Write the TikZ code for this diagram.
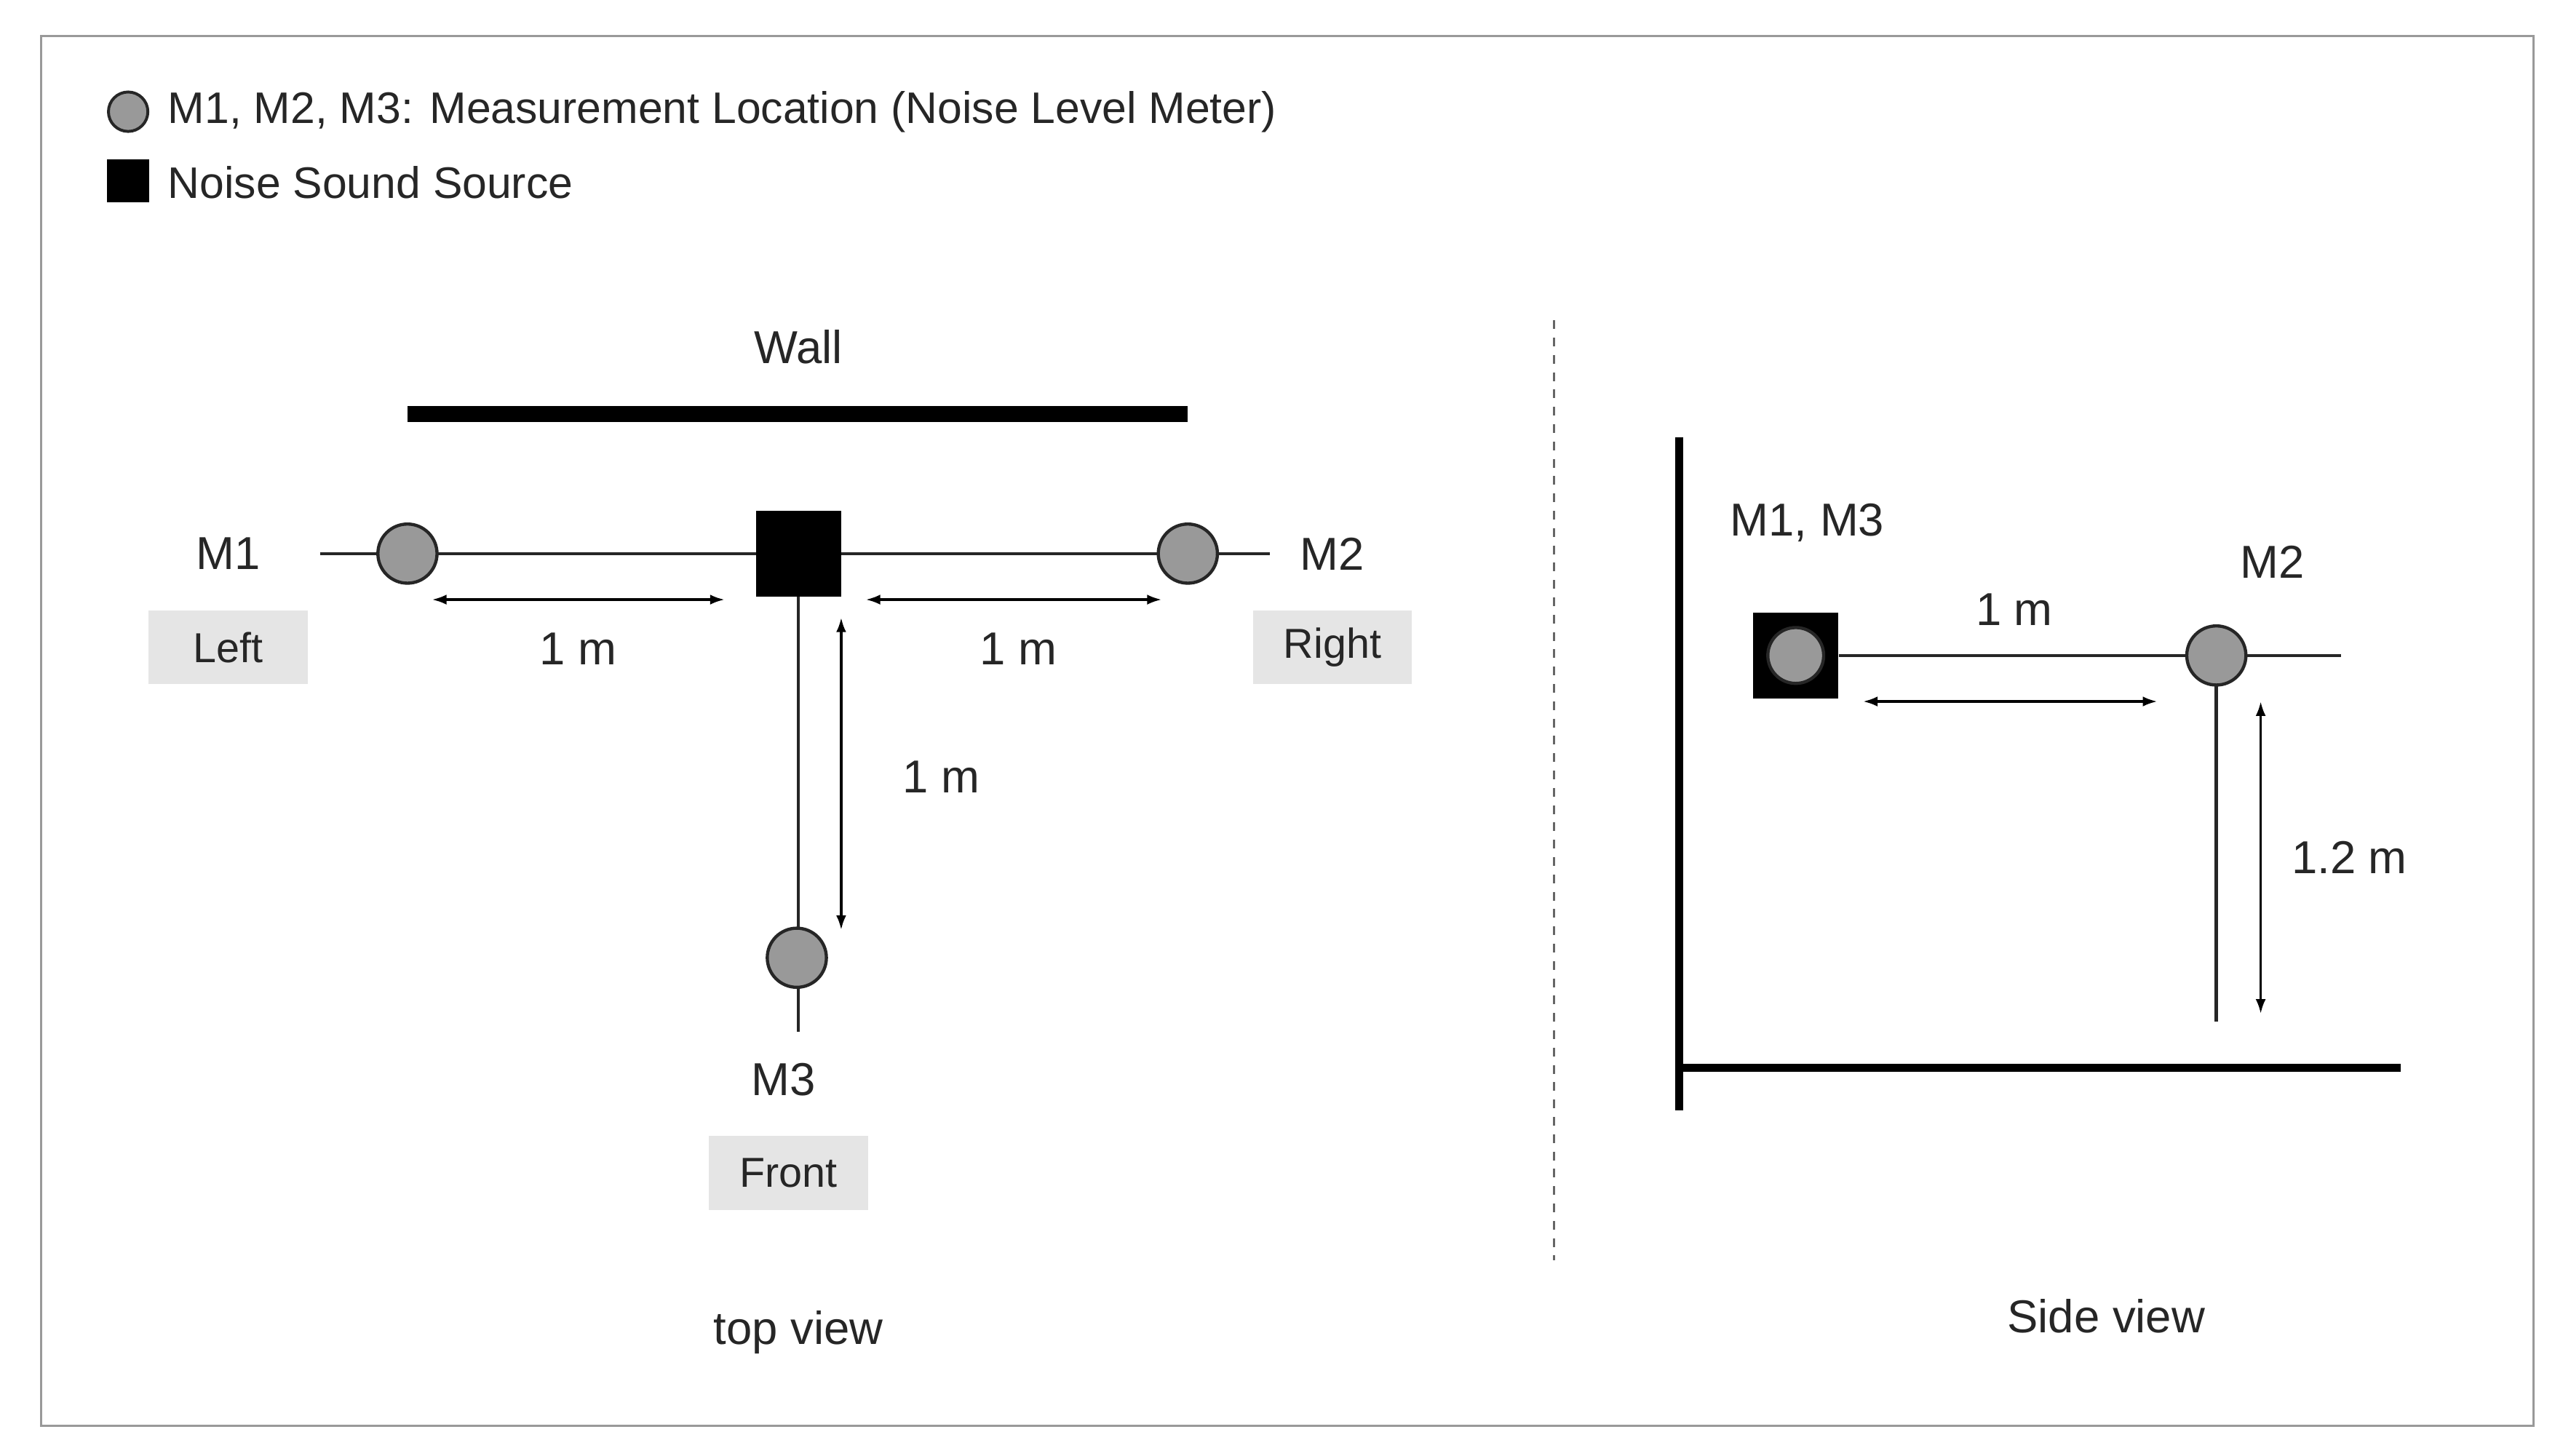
\documentclass[tikz,border=0pt]{standalone}
\usepackage{fontspec}
\setmainfont{Liberation Sans}
\usetikzlibrary{arrows.meta}
\begin{document}
\begin{tikzpicture}[x=0.02cm,y=-0.02cm,
  lbl/.style={font=\fontsize{16}{18}\selectfont,text=black!85},
  leg/.style={font=\fontsize{15.3}{17}\selectfont,text=black!85,anchor=west},
  meter/.style={circle,draw=black!85,fill=black!40,line width=1.1pt,minimum size=0.72cm,inner sep=0},
  src/.style={rectangle,fill=black,minimum size=1.04cm,inner sep=0},
  thin/.style={line width=1.1pt,black!85},
  dim/.style={line width=0.8pt,{Latex[length=5pt,width=3.5pt]}-{Latex[length=5pt,width=3.5pt]}},
  tag/.style={fill=black!10,minimum width=1.94cm,minimum height=0.9cm,font=\fontsize{14.5}{17}\selectfont,text=black!85}]
\useasboundingbox (0,0) rectangle (1560,886);
\draw[black!40,line width=0.8pt] (25,22) rectangle (1542,868);
% legend
\node[circle,draw=black!85,fill=black!40,line width=1pt,minimum size=0.48cm,inner sep=0] (lc) at (78,68) {};
\node[leg] (lt1) at (96,68) {M1, M2, M3: Measurement Location (Noise Level Meter)};
\node[fill=black,minimum size=0.52cm,inner sep=0] (ls) at (78,110) {};
\node[leg] (lt2) at (96,111) {Noise Sound Source};
% top view
\node[lbl] (wall) at (486,211) {Wall};
\draw[line width=5.7pt] (248,252) -- (723,252);
\coordinate (hl) at (195,337); \coordinate (hr) at (773,337); \coordinate (vb) at (486,628);
\node[src] (s) at (486,337) {};
\draw[thin] (hl) -- (hr);
\draw[thin] (s.center) -- (vb);
\node[src] at (486,337) {};
\node[meter] (m1) at (248,337) {};
\node[meter] (m2) at (723,337) {};
\node[meter] (m3) at (485,583) {};
\node[lbl] (m1l) at (139,337) {M1};
\node[tag] (left) at (139,394) {Left};
\node[lbl] (m2l) at (811,337) {M2};
\node[tag] (right) at (811,394) {Right};
\node[lbl] (m3l) at (477,657) {M3};
\node[tag] (front) at (480,714) {Front};
\coordinate (a1) at (263,365); \coordinate (a2) at (441,365);
\coordinate (a3) at (527,365); \coordinate (a4) at (707,365);
\coordinate (a5) at (512,376); \coordinate (a6) at (512,566);
\draw[dim] (a1) -- (a2); \draw[dim] (a3) -- (a4); \draw[dim] (a5) -- (a6);
\node[lbl] (d1) at (352,395) {1 m};
\node[lbl] (d2) at (620,395) {1 m};
\node[lbl] (d3) at (573,473) {1 m};
\node[lbl] (tv) at (486,811) {top view};
% divider
\draw[dashed,black!60,line width=0.7pt] (946,195) -- (946,767);
% side view
\draw[line width=2.8pt] (1022,266) -- (1022,676);
\draw[line width=2.8pt] (1022,650) -- (1461,650);
\coordinate (sr) at (1425,399); \coordinate (sb) at (1349,622);
\node[src] (ss) at (1093,399) {};
\draw[thin] (ss.east) -- (sr);
\draw[thin] (1349,399) -- (sb);
\node[meter,minimum size=0.68cm] (m13) at (1093,399) {};
\node[meter] (sm2) at (1349,399) {};
\node[lbl] (m13l) at (1100,318) {M1, M3};
\node[lbl] (sm2l) at (1383,342) {M2};
\coordinate (b1) at (1134,427); \coordinate (b2) at (1313,427);
\coordinate (b3) at (1376,427); \coordinate (b4) at (1376,617);
\draw[dim] (b1) -- (b2); \draw[dim] (b3) -- (b4);
\node[lbl] (e1) at (1226,371) {1 m};
\node[lbl] (e2) at (1430,522) {1.2 m};
\node[lbl] (sv) at (1282,801) {Side view};
\end{tikzpicture}
\end{document}
